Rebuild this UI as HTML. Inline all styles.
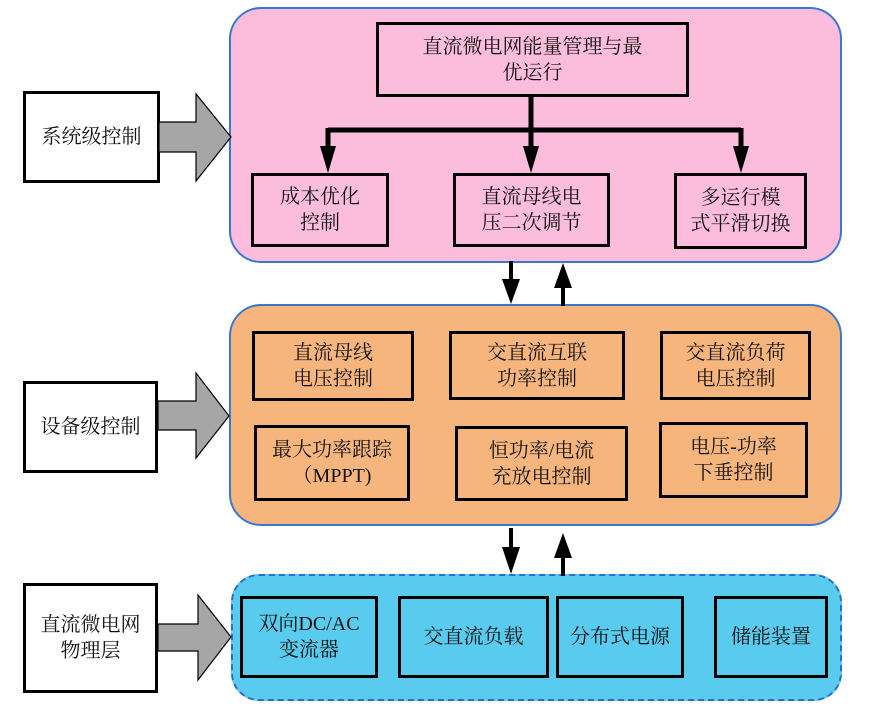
<!DOCTYPE html>
<html><head><meta charset="utf-8"><style>
body{margin:0;width:869px;height:713px;background:#fff;position:relative;overflow:hidden;font-family:"Liberation Serif","Noto Serif CJK SC","Noto Sans CJK SC",serif;}
.p{position:absolute;box-sizing:border-box;}
.b{position:absolute;box-sizing:border-box;border:3px solid #000;display:flex;align-items:center;justify-content:center;text-align:center;font-size:20px;line-height:26px;color:#111;}
</style></head><body>
<div class="p" style="left:229px;top:7px;width:613px;height:256px;background:#fcbddc;border:2px solid #3a78d0;border-radius:32px;"></div>
<div class="p" style="left:229px;top:304px;width:613px;height:222px;background:#f7b57e;border:2px solid #3a78d0;border-radius:32px;"></div>
<div class="p" style="left:231px;top:574px;width:611px;height:127px;background:#58cbef;border:2px dashed #2f6cc8;border-radius:28px;"></div>

<div class="b" style="left:23px;top:91px;width:137px;height:92px;background:#fff;">系统级控制</div>
<div class="b" style="left:23px;top:381px;width:135px;height:92px;background:#fff;">设备级控制</div>
<div class="b" style="left:23px;top:583px;width:135px;height:110px;background:#fff;">直流微电网<br>物理层</div>

<svg class="p" style="left:0;top:0" width="869" height="713">
<g fill="#a6a6a6" stroke="#000" stroke-width="1.2">
<polygon points="159,122 196,122 196,94 231,137 196,181 196,152 159,152"/>
<polygon points="158,401 196,401 196,373 229,416 196,458 196,430 158,430"/>
<polygon points="158,624 198,624 198,595 231,637 198,680 198,651 158,651"/>
</g>
<g stroke="#000" stroke-width="5" fill="none">
<line x1="531" y1="96" x2="531" y2="150"/>
<line x1="328" y1="130" x2="741" y2="130"/>
<line x1="328" y1="128" x2="328" y2="150"/>
<line x1="741" y1="128" x2="741" y2="150"/>
</g>
<g fill="#000">
<polygon points="320,146 336,146 328,173"/>
<polygon points="523,146 539,146 531,173"/>
<polygon points="733,146 749,146 741,173"/>
</g>
<g stroke="#000" stroke-width="4">
<line x1="511" y1="261" x2="511" y2="282"/>
<line x1="563" y1="306" x2="563" y2="285"/>
<line x1="511" y1="528" x2="511" y2="550"/>
<line x1="563" y1="576" x2="563" y2="555"/>
</g>
<g fill="#000">
<polygon points="502,279 520,279 511,304"/>
<polygon points="554,288 572,288 563,263"/>
<polygon points="502,547 520,547 511,574"/>
<polygon points="554,558 572,558 563,533"/>
</g>
</svg>

<div class="b" style="left:376px;top:22px;width:313px;height:75px;">直流微电网能量管理与最<br>优运行</div>
<div class="b" style="left:251px;top:173px;width:138px;height:74px;">成本优化<br>控制</div>
<div class="b" style="left:453px;top:173px;width:157px;height:74px;">直流母线电<br>压二次调节</div>
<div class="b" style="left:674px;top:173px;width:133px;height:76px;">多运行模<br>式平滑切换</div>

<div class="b" style="left:252px;top:331px;width:162px;height:70px;">直流母线<br>电压控制</div>
<div class="b" style="left:449px;top:331px;width:176px;height:69px;">交直流互联<br>功率控制</div>
<div class="b" style="left:660px;top:331px;width:151px;height:69px;">交直流负荷<br>电压控制</div>
<div class="b" style="left:254px;top:425px;width:156px;height:76px;">最大功率跟踪<br>（MPPT)</div>
<div class="b" style="left:455px;top:426px;width:173px;height:75px;">恒功率/电流<br>充放电控制</div>
<div class="b" style="left:659px;top:422px;width:149px;height:76px;">电压-功率<br>下垂控制</div>

<div class="b" style="left:240px;top:596px;width:138px;height:82px;">双向DC/AC<br>变流器</div>
<div class="b" style="left:398px;top:596px;width:151px;height:82px;">交直流负载</div>
<div class="b" style="left:556px;top:596px;width:128px;height:82px;">分布式电源</div>
<div class="b" style="left:714px;top:596px;width:114px;height:82px;">储能装置</div>
</body></html>
